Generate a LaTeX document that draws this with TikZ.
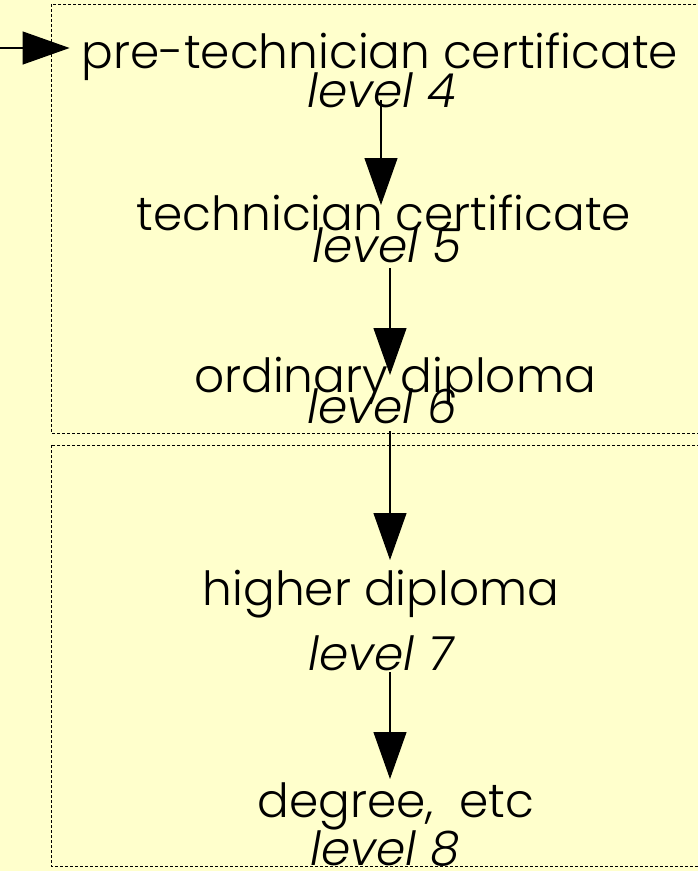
\documentclass[tikz,border=0pt]{standalone}
\usepackage{fontspec}
\setmainfont{Poppins}[UprightFont={* Light}, ItalicFont={* Light Italic}]
\usetikzlibrary{arrows.meta}
\definecolor{bg}{HTML}{FFFFCC}
\begin{document}
\begin{tikzpicture}[x=1pt,y=-1pt,
  lbl/.style={anchor=base, inner sep=0pt, font=\fontsize{47}{47}\selectfont},
  lvl/.style={anchor=base, inner sep=0pt, font=\fontsize{47}{47}\selectfont\itshape},
  conn/.style={line width=1.2pt, -{Triangle[length=47pt,width=33pt]}},
  grp/.style={draw, line width=0.9pt, dash pattern=on 3pt off 2pt}]
\fill[bg] (0,0) rectangle (698,871);
\useasboundingbox (0,0) rectangle (698,871);
\draw[grp] (51,4) rectangle (702,433);
\draw[grp] (51,445) rectangle (702,866);
\node[lbl] (t1) at (380,68) {pre-technician certificate};
\node[lvl] (l1) at (382,107) {level 4};
\node[lbl] (t2) at (384,230) {technician certificate};
\node[lvl] (l2) at (387,262) {level 5};
\node[lbl] (t3) at (395,392) {ordinary diploma};
\node[lvl] (l3) at (382,423) {level 6};
\node[lbl] (t4) at (381,605) {higher diploma};
\node[lvl] (l4) at (381,670) {level 7};
\node[lbl] (t5) at (396,817) {degree,\ \ etc};
\node[lvl] (l5) at (385,865) {level 8};
\coordinate (src) at (0,48);
\draw[conn] (src) -- ([xshift=-12pt,yshift=20pt]t1.base west);
\draw[conn] ([xshift=-1pt,yshift=7pt]l1.base) -- ([xshift=-3pt,yshift=25pt]t2.base);
\draw[conn] ([xshift=3pt,yshift=-6pt]l2.base) -- ([xshift=-5pt,yshift=17pt]t3.base);
\draw[conn] ([xshift=8pt,yshift=-8pt]l3.base) -- ([xshift=9pt,yshift=45pt]t4.base);
\draw[conn] ([xshift=9pt,yshift=-2pt]l4.base) -- ([xshift=-6pt,yshift=38pt]t5.base);
\end{tikzpicture}
\end{document}
